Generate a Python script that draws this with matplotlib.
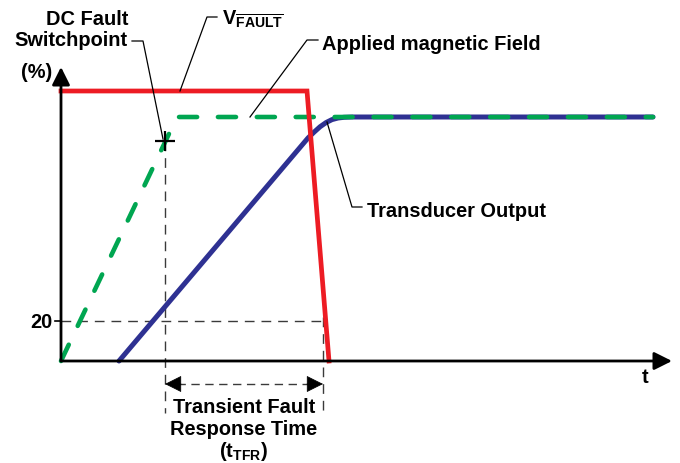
import numpy as np
import matplotlib.pyplot as plt

plt.rcParams['font.family'] = ['Liberation Sans', 'DejaVu Sans']
plt.rcParams['font.weight'] = 'bold'
plt.rcParams['mathtext.fontset'] = 'custom'
plt.rcParams['mathtext.rm'] = 'Liberation Sans:bold'
plt.rcParams['mathtext.bf'] = 'Liberation Sans:bold'
plt.rcParams['mathtext.it'] = 'Liberation Sans:bold'
plt.rcParams['lines.scale_dashes'] = False

RED = '#ED1C24'
BLUE = '#2E3192'
GREEN = '#00A651'
GUIDE = '#3a3a3a'

# time in arbitrary units, level in %
t_fault = [0, 24.6, 26.8]
v_fault = [135, 135, 0]
t_field = [0, 11.6, 59.2]
field = [0, 122, 122]
t_out = [5.8, 24.7, 25.3, 25.9, 26.5, 27.1, 27.7, 28.3, 29.1, 59.2]
out = [0, 111.5, 114.4, 117.1, 119.2, 120.7, 121.5, 121.85, 122, 122]
t_switch = 10.4
switch_level = 110
t_resp_end = 26.2
level_mark = 20

fig = plt.figure(figsize=(6.8, 4.64), dpi=100)
ax = fig.add_axes([0, 0, 1, 1])
ax.set_xlim(-6.1, 61.9)
ax.set_ylim(-51, 181)
ax.axis('off')

# axes with arrow heads
ax_arrow = dict(arrowstyle='-|>,head_length=0.6,head_width=0.3', lw=2.0,
                color='black', mutation_scale=18, shrinkA=0, shrinkB=0)
ax.annotate('', xy=(0, 147), xytext=(0, 0), arrowprops=ax_arrow)
ax.annotate('', xy=(61.1, 0), xytext=(0, 0), arrowprops=ax_arrow)

# guide lines
ax.plot([0, t_resp_end], [level_mark, level_mark], color=GUIDE, lw=1.0, dashes=(7, 5))
ax.plot([t_switch, t_switch], [switch_level, -26], color=GUIDE, lw=1.0, dashes=(7, 5))
ax.plot([t_resp_end, t_resp_end], [22, -26.5], color=GUIDE, lw=1.0, dashes=(7, 5))
ax.plot([-0.6, 0], [level_mark, level_mark], color='black', lw=1.2)

# curves
ax.plot(t_out, out, color=BLUE, lw=3.6, solid_capstyle='round', solid_joinstyle='round')
ax.plot(t_field, field, color=GREEN, lw=3.3, dashes=(13, 15),
        dash_capstyle='round', dash_joinstyle='round')
ax.plot(t_fault, v_fault, color=RED, lw=3.4, solid_joinstyle='miter')
ax.plot(t_switch, switch_level, marker='+', ms=14, mew=1.6, color='black')

# response time arrow
y_arr = -11.5
ax.plot([t_switch + 1.2, t_resp_end - 1.2], [y_arr, y_arr], color=GUIDE, lw=1.0, dashes=(6, 4))
head = dict(arrowstyle='-|>,head_length=0.6,head_width=0.3', lw=0.5,
            color='black', mutation_scale=18, shrinkA=0, shrinkB=0)
ax.annotate('', xy=(t_switch, y_arr), xytext=(t_switch + 1.6, y_arr), arrowprops=head)
ax.annotate('', xy=(t_resp_end, y_arr), xytext=(t_resp_end - 1.6, y_arr), arrowprops=head)

# leader lines
lead = dict(color='black', lw=0.9)
ax.plot([7.1, 8.2, 10.2], [160, 160, 111], **lead)
ax.plot([15.6, 14.6, 11.9], [172, 172, v_fault[1]], **lead)
ax.plot([25.7, 24.6, 18.9], [160.5, 160.5, field[1]], **lead)
ax.plot([30.1, 29.1, 26.6], [77, 77, 119.5], **lead)

fs = 14.4
ax.text(6.7, 166, 'DC Fault\nSwitchpoint', ha='right', va='center',
        multialignment='right', fontsize=fs, linespacing=1.1)
ax.text(16.1, 168.5, r'$\mathbf{V}_{\overline{\mathbf{FAULT}}}$', ha='left',
        va='baseline', fontsize=fs)
ax.text(26.1, 156, 'Applied magnetic Field', ha='left', va='baseline', fontsize=fs)
ax.text(30.6, 72.5, 'Transducer Output', ha='left', va='baseline', fontsize=fs)
ax.text(-0.8, level_mark, str(level_mark), ha='right', va='center', fontsize=fs)
ax.text(-0.9, 145, '(%)', ha='right', va='center', fontsize=fs)
ax.text(58.4, -10.5, 't', ha='center', va='baseline', fontsize=fs)
ax.text(18.3, -25.5, 'Transient Fault', ha='center', va='baseline', fontsize=fs)
ax.text(18.3, -36.5, 'Response Time', ha='center', va='baseline', fontsize=fs)
ax.text(18.3, -47.5, r'($\mathbf{t}_{\mathbf{TFR}}$)', ha='center', va='baseline', fontsize=fs)

fig.savefig('out.png', dpi=100)
